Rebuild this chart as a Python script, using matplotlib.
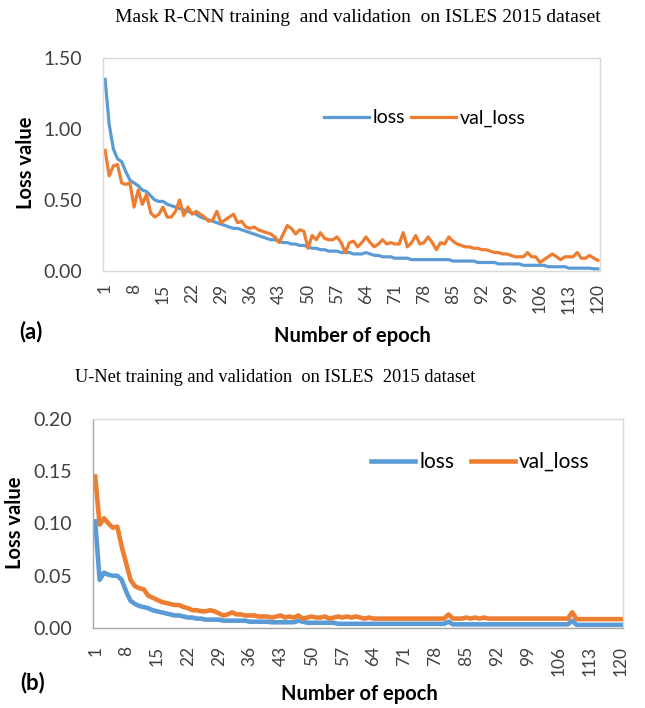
import matplotlib
matplotlib.use("Agg")
import matplotlib.pyplot as plt
import numpy as np

epochs = list(range(1, 121))
tick_epochs = list(range(1, 121, 7))

mask_loss = [1.35, 1.03, 0.86, 0.79, 0.77, 0.70, 0.64, 0.62, 0.60, 0.57,
             0.56, 0.53, 0.50, 0.49, 0.49, 0.47, 0.46, 0.45, 0.44, 0.43,
             0.42, 0.41, 0.40, 0.38, 0.37, 0.36, 0.35, 0.34, 0.33, 0.32,
             0.31, 0.30, 0.30, 0.29, 0.28, 0.27, 0.26, 0.25, 0.24, 0.23,
             0.22, 0.22, 0.21, 0.20, 0.20, 0.19, 0.19, 0.18, 0.18, 0.17,
             0.16, 0.16, 0.15, 0.15, 0.14, 0.14, 0.14, 0.13, 0.13, 0.13,
             0.12, 0.12, 0.12, 0.13, 0.12, 0.11, 0.11, 0.10, 0.10, 0.10,
             0.09, 0.09, 0.09, 0.09, 0.08, 0.08, 0.08, 0.08, 0.08, 0.08,
             0.08, 0.08, 0.08, 0.08, 0.07, 0.07, 0.07, 0.07, 0.07, 0.07,
             0.06, 0.06, 0.06, 0.06, 0.06, 0.05, 0.05, 0.05, 0.05, 0.05,
             0.05, 0.04, 0.04, 0.04, 0.04, 0.04, 0.04, 0.03, 0.03, 0.03,
             0.03, 0.03, 0.02, 0.02, 0.02, 0.02, 0.02, 0.02, 0.015, 0.015]

mask_val = [0.85, 0.67, 0.74, 0.75, 0.62, 0.61, 0.62, 0.45, 0.57, 0.47,
            0.54, 0.41, 0.38, 0.40, 0.45, 0.38, 0.38, 0.42, 0.50, 0.39,
            0.45, 0.40, 0.42, 0.40, 0.38, 0.35, 0.36, 0.42, 0.34, 0.36,
            0.38, 0.40, 0.34, 0.35, 0.31, 0.30, 0.31, 0.29, 0.28, 0.27,
            0.26, 0.24, 0.20, 0.26, 0.32, 0.30, 0.26, 0.29, 0.28, 0.16,
            0.25, 0.22, 0.27, 0.23, 0.22, 0.22, 0.24, 0.20, 0.13, 0.20,
            0.21, 0.17, 0.20, 0.24, 0.20, 0.17, 0.19, 0.22, 0.19, 0.20,
            0.19, 0.19, 0.27, 0.17, 0.20, 0.25, 0.19, 0.20, 0.24, 0.20,
            0.15, 0.20, 0.19, 0.24, 0.21, 0.19, 0.18, 0.17, 0.17, 0.16,
            0.16, 0.15, 0.15, 0.14, 0.13, 0.13, 0.12, 0.12, 0.11, 0.10,
            0.10, 0.10, 0.13, 0.10, 0.10, 0.06, 0.08, 0.10, 0.12, 0.10,
            0.08, 0.10, 0.10, 0.10, 0.13, 0.09, 0.09, 0.11, 0.09, 0.075]

unet_loss = [0.102, 0.046, 0.053, 0.051, 0.050, 0.050, 0.046, 0.035, 0.026, 0.023,
             0.021, 0.020, 0.019, 0.017, 0.016, 0.015, 0.014, 0.013, 0.012, 0.012,
             0.011, 0.010, 0.010, 0.009, 0.009, 0.008, 0.008, 0.008, 0.008, 0.007,
             0.007, 0.007, 0.007, 0.007, 0.007, 0.006, 0.006, 0.006, 0.006, 0.006,
             0.0055, 0.0055, 0.0055, 0.0055, 0.0055, 0.0055, 0.007, 0.006, 0.005, 0.005,
             0.005, 0.005, 0.005, 0.005, 0.005, 0.004, 0.004, 0.004, 0.004, 0.004,
             0.004, 0.004, 0.004, 0.004, 0.004, 0.004, 0.004, 0.004, 0.004, 0.004,
             0.004, 0.004, 0.004, 0.004, 0.004, 0.004, 0.004, 0.004, 0.004, 0.004,
             0.006, 0.0035, 0.0035, 0.0035, 0.0035, 0.0035, 0.0035, 0.0035, 0.0035, 0.0035,
             0.0035, 0.0035, 0.0035, 0.0035, 0.0035, 0.0035, 0.0035, 0.0035, 0.0035, 0.0035,
             0.0035, 0.0035, 0.0035, 0.0035, 0.0035, 0.0035, 0.0035, 0.0035, 0.007, 0.003,
             0.003, 0.003, 0.003, 0.003, 0.003, 0.003, 0.003, 0.003, 0.003, 0.003]

unet_val = [0.145, 0.099, 0.105, 0.100, 0.096, 0.097, 0.078, 0.062, 0.046, 0.040,
            0.038, 0.037, 0.031, 0.029, 0.027, 0.025, 0.024, 0.023, 0.022, 0.022,
            0.020, 0.019, 0.017, 0.017, 0.016, 0.016, 0.017, 0.016, 0.014, 0.012,
            0.013, 0.015, 0.013, 0.013, 0.012, 0.012, 0.012, 0.011, 0.011, 0.011,
            0.010, 0.011, 0.012, 0.010, 0.011, 0.010, 0.012, 0.009, 0.010, 0.011,
            0.010, 0.010, 0.011, 0.009, 0.010, 0.011, 0.010, 0.011, 0.010, 0.011,
            0.010, 0.009, 0.010, 0.009, 0.009, 0.009, 0.009, 0.009, 0.009, 0.009,
            0.009, 0.009, 0.009, 0.009, 0.009, 0.009, 0.009, 0.009, 0.009, 0.009,
            0.013, 0.009, 0.009, 0.009, 0.010, 0.009, 0.010, 0.009, 0.010, 0.009,
            0.009, 0.009, 0.009, 0.009, 0.009, 0.009, 0.009, 0.009, 0.009, 0.009,
            0.009, 0.009, 0.009, 0.009, 0.009, 0.009, 0.009, 0.009, 0.015, 0.0085,
            0.0085, 0.0085, 0.0085, 0.0085, 0.0085, 0.0085, 0.0085, 0.0085, 0.0085, 0.0085]

top_yticks = [0.0, 0.5, 1.0, 1.5]
bot_yticks = [0.0, 0.05, 0.10, 0.15, 0.20]

BLUE = "#5B9BD5"
ORANGE = "#ED7D31"
SANS = ["Lato", "DejaVu Sans"]
SERIF = ["Liberation Serif", "DejaVu Serif"]
TXT = "#404040"

W, H = 645, 708
fig = plt.figure(figsize=(W / 100, H / 100), dpi=100)

def ax_rect(l, r, t, b):
    return [l / W, 1 - b / H, (r - l) / W, (b - t) / H]

def style(ax, yticks, fmt, ymax, xpad):
    ax.set_xlim(0.5, 120.5)
    ax.set_ylim(0, ymax)
    ax.set_yticks(yticks)
    ax.set_yticklabels([fmt.format(v) for v in yticks], family=SANS, fontsize=14, color=TXT)
    ax.set_xticks(tick_epochs)
    ax.set_xticklabels([str(e) for e in tick_epochs], rotation=90, family=SANS,
                       fontsize=12.5, color=TXT)
    ax.tick_params(axis="y", length=0, pad=15)
    ax.tick_params(axis="x", length=0, pad=xpad)
    for s in ax.spines.values():
        s.set_color("#D9D9D9")
        s.set_linewidth(1.0)

# Top chart
ax1 = fig.add_axes(ax_rect(103, 600, 58, 271))
ax1.plot(epochs, mask_loss, color=BLUE, lw=2.3, label="loss", solid_joinstyle="round")
ax1.plot(epochs, mask_val, color=ORANGE, lw=2.3, label="val_loss", solid_joinstyle="round")
style(ax1, top_yticks, "{:.2f}", 1.5, 9)
ax1.legend(loc="center left", bbox_to_anchor=(0.445, 0.718), ncol=2, frameon=False,
           prop={"family": SANS, "size": 14}, handlelength=2.3, handletextpad=0.2,
           columnspacing=0.3, borderaxespad=0, borderpad=0)
fig.text(358 / W, 1 - 18 / H, "Mask R-CNN training  and validation  on ISLES 2015 dataset",
         family=SERIF, fontsize=14, ha="center", va="center")
fig.text(26 / W, 1 - 163 / H, "Loss value", rotation=90, family=SANS, fontsize=14.5,
         fontweight="bold", ha="center", va="center")
fig.text(352 / W, 1 - 336 / H, "Number of epoch", family=SANS, fontsize=14.5,
         fontweight="bold", ha="center", va="center")
fig.text(31 / W, 1 - 332 / H, "(a)", family=SANS, fontsize=16,
         fontweight="bold", ha="center", va="center")

# Bottom chart
ax2 = fig.add_axes(ax_rect(93, 623, 419, 628))
ax2.plot(epochs, unet_loss, color=BLUE, lw=3.3, label="loss", solid_joinstyle="round")
ax2.plot(epochs, unet_val, color=ORANGE, lw=3.3, label="val_loss", solid_joinstyle="round")
style(ax2, bot_yticks, "{:.2f}", 0.20, 13)
ax2.spines["left"].set_color("#A6A6A6")
ax2.spines["bottom"].set_color("#A6A6A6")
ax2.legend(loc="center left", bbox_to_anchor=(0.525, 0.794), ncol=2, frameon=False,
           prop={"family": SANS, "size": 15}, handlelength=2.1, handletextpad=0.2,
           columnspacing=0.8, borderaxespad=0, borderpad=0)
fig.text(275 / W, 1 - 378 / H, "U-Net training and validation  on ISLES  2015 dataset",
         family=SERIF, fontsize=13.2, ha="center", va="center")
fig.text(15 / W, 1 - 523 / H, "Loss value", rotation=90, family=SANS, fontsize=14.5,
         fontweight="bold", ha="center", va="center")
fig.text(359 / W, 1 - 694 / H, "Number of epoch", family=SANS, fontsize=14.5,
         fontweight="bold", ha="center", va="center")
fig.text(33 / W, 1 - 683 / H, "(b)", family=SANS, fontsize=16,
         fontweight="bold", ha="center", va="center")

fig.savefig("out.png", dpi=100)
